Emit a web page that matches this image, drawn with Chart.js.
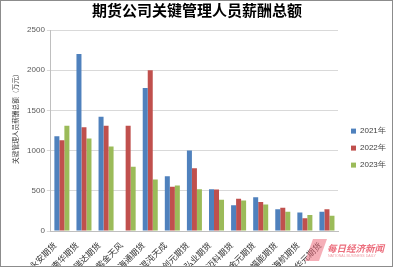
<!DOCTYPE html>
<html>
<head>
<meta charset="utf-8">
<script src="https://cdn.jsdelivr.net/npm/chart.js@4.4.1/dist/chart.umd.min.js"></script>
<style>
  body { margin: 0; background: #fff; }
  #wrap { position: relative; width: 393px; height: 267px; }
  #frame { position: absolute; left: 0; top: 0; width: 393px; height: 267px; box-sizing: border-box; border: 1px solid #8c8c8c; pointer-events: none; }
  #logo { position: absolute; left: 309px; top: 239px; width: 14px; height: 22px; background: rgba(236, 110, 125, 0.55); transform: skewX(-20deg); }
  #mark { position: absolute; left: 327px; top: 241px; font: italic bold 9.5px "Noto Sans CJK SC"; color: #ec6e7d; white-space: nowrap; }
  #mark2 { position: absolute; left: 328px; top: 254px; font: 3.6px "Liberation Sans"; color: #f0a0a8; white-space: nowrap; }
</style>
</head>
<body>
<div id="wrap">
  <canvas id="chart" width="393" height="267"></canvas>
  <div id="logo"></div>
  <div id="mark">每日经济新闻</div>
  <div id="mark2">NATIONAL BUSINESS DAILY</div>
  <div id="frame"></div>
</div>
<script>
// companies and yearly totals (万元)
const companies = ['永安期货','南华期货','瑞达期货','紫金天风','海通期货','混沌天成','创元期货','弘业期货','迈科期货','金元期货','福能期货','海航期货','华元期货'];
const years = ['2021年','2022年','2023年'];
const pay2021 = [1180, 2200, 1420, null, 1780, 680, 1000, 520, 320, 420, 270, 230, 240];
const pay2022 = [1130, 1290, 1310, 1310, 2000, 550, 780, 515, 400, 360, 290, 160, 270];
const pay2023 = [1310, 1150, 1050, 800, 640, 565, 520, 390, 380, 330, 240, 200, 190];
const yTicks = [0, 500, 1000, 1500, 2000, 2500];

const colors = ['#4f81bd', '#c0504d', '#9bbb59'];
const series = [pay2021, pay2022, pay2023];

const data = {
  labels: companies,
  datasets: series.map((s, i) => ({
    label: years[i],
    data: s,
    backgroundColor: colors[i],
    categoryPercentage: 0.68,
    barPercentage: 1.0
  }))
};

// nudge the legend a bit to the right of the plot, like the original
const legendNudge = {
  id: 'legendNudge',
  afterLayout(chart) {
    chart.legend.left += 4;
    chart.legend.right += 4;
  }
};

let ctx = document.getElementById('chart').getContext('2d');

var chart = new Chart(ctx, {
  type: 'bar',
  data: data,
  plugins: [legendNudge],
  options: {
    responsive: false,
    animation: false,
    layout: { padding: { left: 8, right: 7, top: 0, bottom: 0 } },
    plugins: {
      title: {
        display: true,
        text: '期货公司关键管理人员薪酬总额',
        color: '#000',
        font: { family: 'Noto Sans CJK SC', size: 15, weight: 'bold' },
        padding: { top: 1, bottom: 11 }
      },
      legend: {
        position: 'right',
        maxWidth: 48,
        title: { display: true, text: ' ', font: { size: 1 }, padding: { top: 14, bottom: 14 } },
        labels: {
          boxWidth: 5,
          boxHeight: 5,
          padding: 9,
          color: '#404040',
          font: { family: 'Liberation Sans', size: 8 }
        }
      },
      tooltip: { enabled: false }
    },
    scales: {
      x: {
        grid: { display: false },
        border: { color: '#bfbfbf' },
        afterFit: axis => { axis.height = 36; },
        ticks: {
          maxRotation: 45,
          minRotation: 45,
          autoSkip: false,
          padding: 1,
          labelOffset: -7,
          color: '#333',
          font: { family: 'Noto Sans CJK SC', size: 8.5 }
        }
      },
      y: {
        min: 0,
        max: 2500,
        afterBuildTicks: axis => { axis.ticks = yTicks.map(v => ({ value: v })); },
        grid: { color: '#d9d9d9', tickLength: 4 },
        border: { color: '#bfbfbf' },
        ticks: {
          padding: 2,
          color: '#595959',
          font: { family: 'Liberation Sans', size: 8 },
          callback: v => String(v)
        },
        title: {
          display: true,
          text: '　　　　关键管理人员薪酬总额（万元）',
          color: '#404040',
          font: { family: 'Noto Sans CJK SC', size: 6.7 },
          padding: { top: 3, bottom: 6 }
        }
      }
    }
  }
});
</script>
</body>
</html>
